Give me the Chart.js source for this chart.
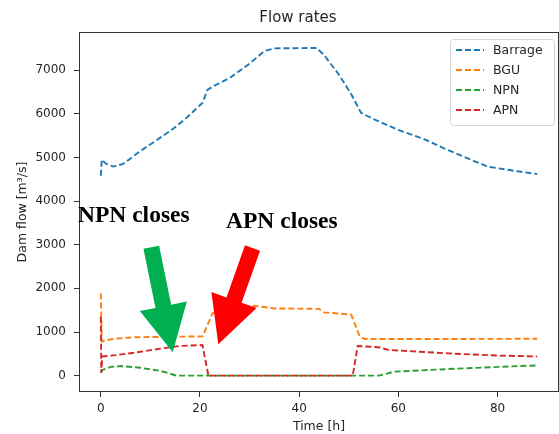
<!DOCTYPE html>
<html>
<head>
<meta charset="utf-8">
<script src="https://cdn.jsdelivr.net/npm/chart.js@4.4.0/dist/chart.umd.min.js"></script>
<style>
  html, body { margin:0; padding:0; background:#fff; }
</style>
</head>
<body>
<canvas id="myChart" width="559" height="434"></canvas>
<script>
// ----- data -----
const xTicks = [0, 20, 40, 60, 80];
const yTicks = [0, 1000, 2000, 3000, 4000, 5000, 6000, 7000];

const tBarrage = [0, 0.2, 1, 2.5, 4.5, 8, 11.3, 14.5, 17, 20.5, 21.5, 22.5, 26, 30, 33, 35, 43.5, 45, 48, 50.5, 52.5, 55, 60, 65, 69, 74, 78, 83, 88];
const barrage  = [4580, 4950, 4860, 4790, 4850, 5150, 5400, 5650, 5880, 6250, 6550, 6620, 6820, 7150, 7440, 7500, 7510, 7350, 6900, 6450, 6020, 5880, 5630, 5430, 5220, 4980, 4790, 4700, 4620];

const tBGU = [0, 0.2, 1, 3, 7, 20.5, 22.5, 24, 31, 35, 44, 45, 50.5, 52.2, 53.2, 70, 88];
const bgu  = [1880, 780, 810, 850, 880, 900, 1420, 1550, 1600, 1540, 1530, 1450, 1400, 900, 840, 840, 845];

const tNPN = [0, 0.3, 2, 4, 8, 12, 15.3, 56, 57.5, 59, 70, 80, 88];
const npn  = [80, 130, 200, 220, 180, 110, 0, 0, 40, 90, 150, 200, 235];

const tAPN = [0, 0.1, 0.3, 3, 7, 12, 16, 20.5, 21.7, 50.8, 51.8, 56, 58, 70, 80, 88];
const apn  = [1350, 60, 440, 470, 530, 620, 680, 700, 0, 0, 680, 650, 590, 510, 460, 440];

// annotations (data coordinates)
const notes = [
  { text: 'NPN closes', x: -4.6, y: 3527 },
  { text: 'APN closes', x: 25.25, y: 3375 }
];
const arrows = [
  { from: [10.18, 2942], to: [14.5, 534], color: '#00b050' },
  { from: [30.59, 2924], to: [23.69, 717], color: '#ff0000' }
];

const pts = (t, v) => t.map((x, i) => ({ x: x, y: v[i] }));
const FONT = 'DejaVu Sans';
const TXT = '#262626';

function lineSet(label, t, v, color, order) {
  return {
    label: label, data: pts(t, v), borderColor: color, backgroundColor: color,
    borderWidth: 1.9, borderDash: [6, 3], pointRadius: 0, tension: 0, fill: false, order: order
  };
}

// frame, title, legend, notes and arrows
const extras = {
  id: 'extras',
  afterDatasetsDraw(chart) {
    const ctx = chart.ctx, a = chart.chartArea;
    ctx.save();
    // frame
    ctx.strokeStyle = '#333';
    ctx.lineWidth = 1;
    ctx.strokeRect(a.left + 0.5, a.top + 0.5, a.right - a.left - 1, a.bottom - a.top - 1);

    // legend
    const lw = 104, lh = 86;
    const lx = a.right - 5 - lw, ly = a.top + 7;
    ctx.beginPath();
    ctx.roundRect(lx + 0.5, ly + 0.5, lw, lh, 3);
    ctx.fillStyle = 'rgba(255,255,255,0.85)';
    ctx.fill();
    ctx.strokeStyle = '#d6d6d6';
    ctx.stroke();
    ctx.font = '12.5px "' + FONT + '"';
    ctx.textBaseline = 'middle';
    ctx.textAlign = 'left';
    chart.data.datasets.forEach((ds, i) => {
      const y = ly + 11 + i * 20;
      ctx.beginPath();
      ctx.setLineDash([6, 3]);
      ctx.strokeStyle = ds.borderColor;
      ctx.lineWidth = 1.9;
      ctx.moveTo(lx + 6, y);
      ctx.lineTo(lx + 34, y);
      ctx.stroke();
      ctx.setLineDash([]);
      ctx.fillStyle = TXT;
      ctx.fillText(ds.label, lx + 43, y + 1);
    });
    ctx.restore();
  },
  afterDraw(chart) {
    const ctx = chart.ctx, sx = chart.scales.x, sy = chart.scales.y;
    ctx.save();
    // title
    ctx.fillStyle = TXT;
    ctx.font = '15px "' + FONT + '"';
    ctx.textAlign = 'center';
    ctx.textBaseline = 'middle';
    ctx.fillText('Flow rates', 298, 18);

    // arrows
    arrows.forEach(ar => {
      const x1 = sx.getPixelForValue(ar.from[0]), y1 = sy.getPixelForValue(ar.from[1]);
      const x2 = sx.getPixelForValue(ar.to[0]), y2 = sy.getPixelForValue(ar.to[1]);
      const dx = x2 - x1, dy = y2 - y1, len = Math.hypot(dx, dy);
      const ux = dx / len, uy = dy / len, px = -uy, py = ux;
      const sh = 8, hh = 24, hl = 47;
      const bx = x2 - ux * hl, by = y2 - uy * hl;
      ctx.beginPath();
      ctx.moveTo(x1 + px * sh, y1 + py * sh);
      ctx.lineTo(bx + px * sh, by + py * sh);
      ctx.lineTo(bx + px * hh, by + py * hh);
      ctx.lineTo(x2, y2);
      ctx.lineTo(bx - px * hh, by - py * hh);
      ctx.lineTo(bx - px * sh, by - py * sh);
      ctx.lineTo(x1 - px * sh, y1 - py * sh);
      ctx.closePath();
      ctx.fillStyle = ar.color;
      ctx.fill();
    });

    // notes
    ctx.fillStyle = '#000';
    ctx.font = 'bold 23.5px "Liberation Serif"';
    ctx.textAlign = 'left';
    ctx.textBaseline = 'alphabetic';
    notes.forEach(n => {
      ctx.fillText(n.text, sx.getPixelForValue(n.x), sy.getPixelForValue(n.y));
    });
    ctx.restore();
  }
};

const ctx = document.getElementById('myChart');

new Chart(ctx, {
  type: 'line',
  data: {
    datasets: [
      lineSet('Barrage', tBarrage, barrage, '#1f77b4', 4),
      lineSet('BGU', tBGU, bgu, '#ff7f0e', 3),
      lineSet('NPN', tNPN, npn, '#2ca02c', 2),
      lineSet('APN', tAPN, apn, '#d62728', 1)
    ]
  },
  options: {
    responsive: false,
    animation: false,
    devicePixelRatio: 1,
    layout: { padding: { top: 32, left: 0, right: 0, bottom: 0 } },
    plugins: { legend: { display: false }, tooltip: { enabled: false }, title: { display: false } },
    scales: {
      x: {
        type: 'linear', min: -4.4, max: 92.4,
        afterBuildTicks: s => { s.ticks = xTicks.map(v => ({ value: v })); },
        afterFit: s => { s.height = 42; },
        grid: { drawOnChartArea: false, drawTicks: true, tickLength: 5, color: '#333' },
        border: { display: false },
        ticks: { font: { family: FONT, size: 12 }, color: TXT, padding: 5, maxRotation: 0, callback: v => String(v) },
        title: { display: true, text: 'Time [h]', font: { family: FONT, size: 12.5 }, color: TXT, padding: { top: 0, bottom: 0 } }
      },
      y: {
        type: 'linear', min: -375, max: 7875,
        afterBuildTicks: s => { s.ticks = yTicks.map(v => ({ value: v })); },
        afterFit: s => { s.width = 79; },
        grid: { drawOnChartArea: false, drawTicks: true, tickLength: 5, color: '#333' },
        border: { display: false },
        ticks: { font: { family: FONT, size: 12 }, color: TXT, padding: 8, callback: v => String(v) },
        title: { display: true, text: 'Dam flow [m³/s]', font: { family: FONT, size: 12.5 }, color: TXT, padding: { top: 15, bottom: 0 } }
      }
    }
  },
  plugins: [extras]
});
</script>
</body>
</html>
